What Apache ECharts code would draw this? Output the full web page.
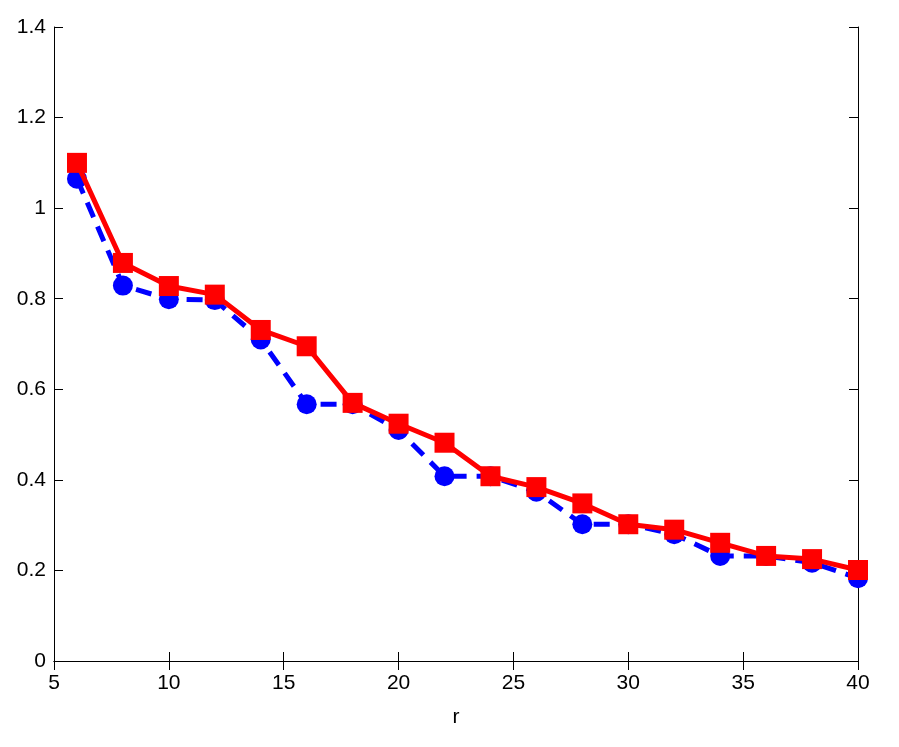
<!DOCTYPE html>
<html>
<head>
<meta charset="utf-8">
<script src="https://cdn.jsdelivr.net/npm/echarts@6/dist/echarts.min.js"></script>
<style>
  html, body { margin: 0; padding: 0; background: #fff; }
  #main { width: 899px; height: 747px; }
</style>
</head>
<body>
<div id="main"></div>
<script>
// r 值
var rValues = [6, 8, 10, 12, 14, 16, 18, 20, 22, 24, 26, 28, 30, 32, 34, 36, 38, 40];
// 蓝色虚线（圆点）
var blueValues = [1.065, 0.829, 0.799, 0.797, 0.710, 0.567, 0.567, 0.510, 0.408, 0.408,
                  0.374, 0.302, 0.302, 0.280, 0.232, 0.232, 0.217, 0.183];
// 红色实线（方块）
var redValues = [1.100, 0.879, 0.828, 0.809, 0.731, 0.695, 0.570, 0.524, 0.482, 0.408,
                 0.384, 0.348, 0.302, 0.290, 0.261, 0.232, 0.225, 0.201];
var xTicks = [5, 10, 15, 20, 25, 30, 35, 40];
var yTicks = [0, 0.2, 0.4, 0.6, 0.8, 1, 1.2, 1.4];

function pairs(xs, ys) {
  var out = [];
  for (var i = 0; i < xs.length; i++) out.push([xs[i], ys[i]]);
  return out;
}

var chart = echarts.init(document.getElementById('main'));

var fontStyle = { color: '#000', fontSize: 21, fontFamily: 'Liberation Sans, Arial, sans-serif' };
var axisLine = { show: true, lineStyle: { color: '#000', width: 1 } };
var tickIn = { show: true, inside: true, length: 9, lineStyle: { color: '#000', width: 1 } };

var option = {
  animation: false,
  backgroundColor: '#fff',
  grid: { left: 54, right: 41, top: 27, bottom: 86, containLabel: false },
  xAxis: [{
    type: 'value',
    min: xTicks[0],
    max: xTicks[xTicks.length - 1],
    interval: 5,
    position: 'bottom',
    name: 'r',
    nameLocation: 'middle',
    nameGap: 46,
    nameTextStyle: fontStyle,
    axisLine: axisLine,
    axisTick: tickIn,
    axisLabel: Object.assign({ margin: 12 }, fontStyle),
    splitLine: { show: false }
  }, {
    type: 'value',
    min: xTicks[0],
    max: xTicks[xTicks.length - 1],
    interval: 5,
    position: 'top',
    axisLine: axisLine,
    axisTick: tickIn,
    axisLabel: { show: false },
    splitLine: { show: false }
  }],
  yAxis: [{
    type: 'value',
    min: yTicks[0],
    max: yTicks[yTicks.length - 1],
    interval: 0.2,
    position: 'left',
    axisLine: axisLine,
    axisTick: tickIn,
    axisLabel: Object.assign({
      margin: 8,
      formatter: function (v) { return String(+v.toFixed(1)); }
    }, fontStyle),
    splitLine: { show: false }
  }, {
    type: 'value',
    min: yTicks[0],
    max: yTicks[yTicks.length - 1],
    interval: 0.2,
    position: 'right',
    axisLine: axisLine,
    axisTick: tickIn,
    axisLabel: { show: false },
    splitLine: { show: false }
  }],
  series: [{
    type: 'line',
    data: pairs(rValues, blueValues),
    symbol: 'circle',
    symbolSize: 20,
    itemStyle: { color: '#0000ff' },
    lineStyle: { color: '#0000ff', width: 5, type: [16, 10] },
    z: 2
  }, {
    type: 'line',
    data: pairs(rValues, redValues),
    symbol: 'rect',
    symbolSize: 20,
    itemStyle: { color: '#ff0000' },
    lineStyle: { color: '#ff0000', width: 5 },
    z: 3
  }]
};

chart.setOption(option);
</script>
</body>
</html>
